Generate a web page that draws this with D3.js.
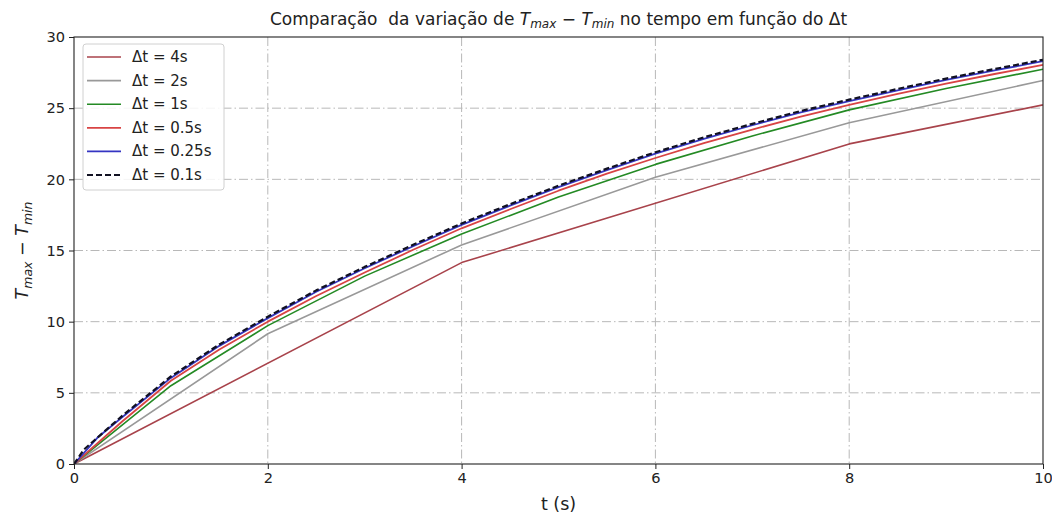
<!DOCTYPE html>
<html>
<head>
<meta charset="utf-8">
<script src="https://cdn.jsdelivr.net/npm/d3@7"></script>
<style>
  html, body { margin: 0; padding: 0; background: #ffffff; }
  svg { display: block; font-family: "DejaVu Sans", sans-serif; }
</style>
</head>
<body>
<svg id="chart" width="1052" height="516"></svg>
<script>
// Time samples and T_max - T_min values for each time step
const t4   = [0, 4, 8, 12];
const v4   = [0, 14.15, 22.49, 27.97];

const t2   = [0, 2, 4, 6, 8, 10];
const v2   = [0, 9.15, 15.39, 20.15, 23.98, 26.94];

const t1   = [0, 1, 2, 3, 4, 5, 6, 7, 8, 9, 10];
const v1   = [0, 5.5, 9.72, 13.2, 16.16, 18.76, 21.05, 23.05, 24.88, 26.38, 27.74];

const t05  = [0, 0.5, 1, 1.5, 2, 2.5, 3, 3.5, 4, 4.5, 5, 5.5, 6, 6.5, 7, 7.5, 8, 8.5, 9, 9.5, 10];
const v05  = [0, 3.0, 5.85, 8.05, 10.0, 11.8, 13.45, 15.05, 16.56, 17.9, 19.2, 20.4, 21.5, 22.55, 23.5, 24.4, 25.23, 26.0, 26.72, 27.4, 28.04];

const t025 = [0, 0.25, 0.5, 1, 1.5, 2, 2.5, 3, 3.5, 4, 4.5, 5, 5.5, 6, 6.5, 7, 7.5, 8, 8.5, 9, 9.5, 10];
const v025 = [0, 1.9, 3.3, 6.05, 8.3, 10.25, 12.1, 13.75, 15.3, 16.8, 18.15, 19.45, 20.65, 21.8, 22.85, 23.8, 24.7, 25.5, 26.25, 26.98, 27.65, 28.3];

const t01  = [0, 0.1, 0.2, 0.3, 0.5, 1, 1.5, 2, 2.5, 3, 3.5, 4, 4.5, 5, 5.5, 6, 6.5, 7, 7.5, 8, 8.5, 9, 9.5, 10];
const v01  = [0, 1.0, 1.6, 2.2, 3.4, 6.15, 8.4, 10.35, 12.2, 13.85, 15.4, 16.9, 18.25, 19.55, 20.75, 21.9, 22.95, 23.9, 24.8, 25.6, 26.35, 27.08, 27.75, 28.4];

const labels = ["Δt = 4s", "Δt = 2s", "Δt = 1s", "Δt = 0.5s", "Δt = 0.25s", "Δt = 0.1s"];
const xTicks = [0, 2, 4, 6, 8, 10];
const yTicks = [0, 5, 10, 15, 20, 25, 30];

const series = [
  { t: t4,   v: v4,   label: labels[0], color: "#a8434b", width: 1.6, dash: null },
  { t: t2,   v: v2,   label: labels[1], color: "#999999", width: 1.6, dash: null },
  { t: t1,   v: v1,   label: labels[2], color: "#248a24", width: 1.6, dash: null },
  { t: t05,  v: v05,  label: labels[3], color: "#d84444", width: 1.8, dash: null },
  { t: t025, v: v025, label: labels[4], color: "#3535c2", width: 1.8, dash: null },
  { t: t01,  v: v01,  label: labels[5], color: "#111122", width: 2.2, dash: "6,3" }
];

const svg = d3.select("#chart");
const margin = { left: 74, right: 1043, top: 37, bottom: 464 };

const x = d3.scaleLinear().domain([0, 10]).range([margin.left, margin.right]);
const y = d3.scaleLinear().domain([0, 30]).range([margin.bottom, margin.top]);

// Grid (dash-dot)
const grid = svg.append("g");
xTicks.slice(1, -1).forEach(d => {
  grid.append("line").attr("x1", x(d)).attr("x2", x(d))
    .attr("y1", margin.top).attr("y2", margin.bottom)
    .attr("stroke", "#b8b8b8").attr("stroke-width", 1)
    .attr("stroke-dasharray", "9,3,1.5,3");
});
yTicks.slice(1, -1).forEach(d => {
  grid.append("line").attr("x1", margin.left).attr("x2", margin.right)
    .attr("y1", y(d)).attr("y2", y(d))
    .attr("stroke", "#b8b8b8").attr("stroke-width", 1)
    .attr("stroke-dasharray", "9,3,1.5,3");
});

// Clip region for the curves
svg.append("clipPath").attr("id", "plotArea")
  .append("rect")
  .attr("x", margin.left).attr("y", margin.top)
  .attr("width", margin.right - margin.left)
  .attr("height", margin.bottom - margin.top);

const line = d3.line().x(d => x(d[0])).y(d => y(d[1]));
const plot = svg.append("g").attr("clip-path", "url(#plotArea)");
series.forEach(s => {
  plot.append("path")
    .attr("d", line(s.t.map((tt, i) => [tt, s.v[i]])))
    .attr("fill", "none")
    .attr("stroke", s.color)
    .attr("stroke-width", s.width)
    .attr("stroke-linejoin", "round")
    .attr("stroke-dasharray", s.dash);
});

// Axes
const xAxis = d3.axisBottom(x).tickValues(xTicks).tickSize(5).tickPadding(4).tickFormat(d3.format("d"));
const yAxis = d3.axisLeft(y).tickValues(yTicks).tickSize(5).tickPadding(4).tickFormat(d3.format("d"));

const gx = svg.append("g").attr("transform", `translate(0,${margin.bottom})`).call(xAxis);
const gy = svg.append("g").attr("transform", `translate(${margin.left},0)`).call(yAxis);
[gx, gy].forEach(g => {
  g.select(".domain").remove();
  g.selectAll("line").attr("stroke", "#222").attr("stroke-width", 1);
  g.selectAll("text").attr("font-size", 14.6).attr("fill", "#222")
    .attr("font-family", "DejaVu Sans, sans-serif");
});

// Frame
svg.append("rect")
  .attr("x", margin.left).attr("y", margin.top)
  .attr("width", margin.right - margin.left)
  .attr("height", margin.bottom - margin.top)
  .attr("fill", "none").attr("stroke", "#222").attr("stroke-width", 1.1);

// Title
const title = svg.append("text")
  .attr("x", (margin.left + margin.right) / 2).attr("y", 25)
  .attr("text-anchor", "middle").attr("font-size", 17).attr("fill", "#222")
  .attr("xml:space", "preserve");
title.append("tspan").text("Comparação  da variação de ");
title.append("tspan").attr("font-style", "italic").text("T");
title.append("tspan").attr("font-style", "italic").attr("font-size", 12).attr("dy", 3).text("max");
title.append("tspan").attr("dy", -3).text(" − ");
title.append("tspan").attr("font-style", "italic").text("T");
title.append("tspan").attr("font-style", "italic").attr("font-size", 12).attr("dy", 3).text("min");
title.append("tspan").attr("dy", -3).text(" no tempo em função do Δt");

// X label
svg.append("text")
  .attr("x", (margin.left + margin.right) / 2).attr("y", 510)
  .attr("text-anchor", "middle").attr("font-size", 17.5).attr("fill", "#222")
  .text("t (s)");

// Y label
const yl = svg.append("text")
  .attr("transform", `translate(28,${(margin.top + margin.bottom) / 2}) rotate(-90)`)
  .attr("text-anchor", "middle").attr("font-size", 17.5).attr("fill", "#222")
  .attr("xml:space", "preserve");
yl.append("tspan").attr("font-style", "italic").text("T");
yl.append("tspan").attr("font-style", "italic").attr("font-size", 12.5).attr("dy", 3.5).text("max");
yl.append("tspan").attr("dy", -3.5).text(" − ");
yl.append("tspan").attr("font-style", "italic").text("T");
yl.append("tspan").attr("font-style", "italic").attr("font-size", 12.5).attr("dy", 3.5).text("min");

// Legend
const lg = svg.append("g");
lg.append("rect")
  .attr("x", 83).attr("y", 44).attr("width", 141).attr("height", 146)
  .attr("rx", 3).attr("fill", "#ffffff").attr("fill-opacity", 0.85)
  .attr("stroke", "#d0d0d0").attr("stroke-width", 1);
series.forEach((s, i) => {
  const yy = 57 + i * 23.6;
  lg.append("line").attr("x1", 87).attr("x2", 121).attr("y1", yy).attr("y2", yy)
    .attr("stroke", s.color).attr("stroke-width", s.width)
    .attr("stroke-dasharray", s.dash);
  lg.append("text").attr("x", 132).attr("y", yy + 5)
    .attr("font-size", 15).attr("fill", "#222").text(s.label);
});
</script>
</body>
</html>
